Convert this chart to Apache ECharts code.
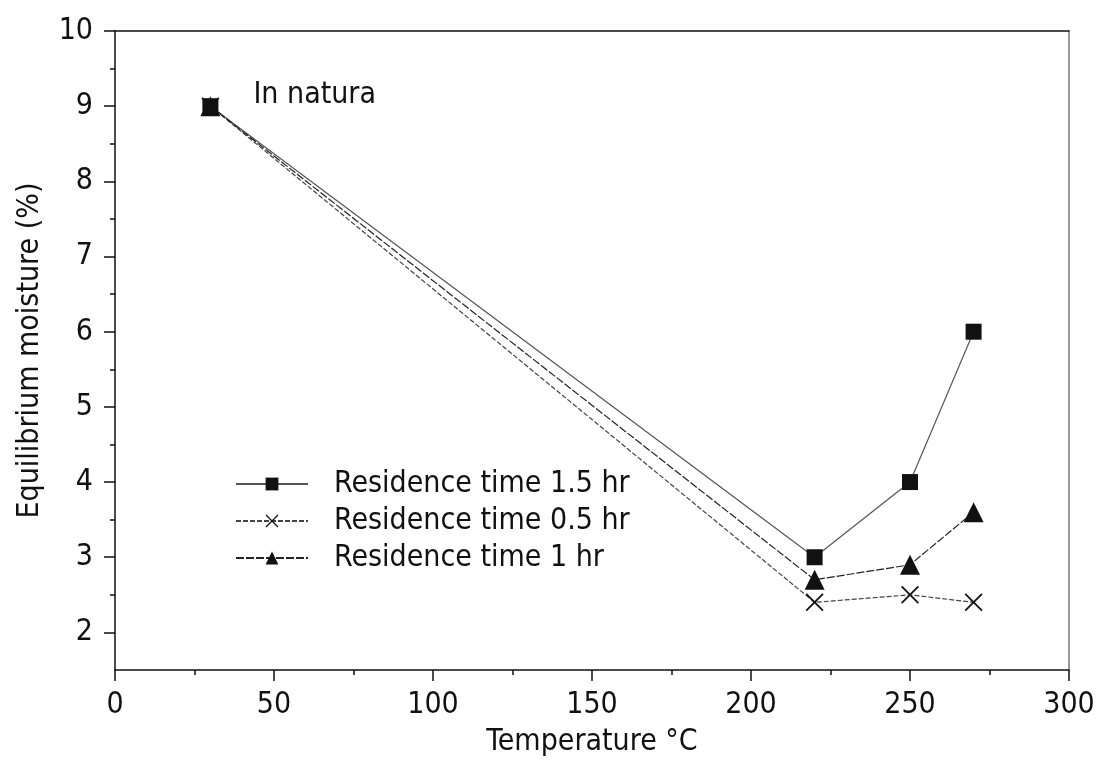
<!DOCTYPE html>
<html>
<head>
<meta charset="utf-8">
<script src="https://cdn.jsdelivr.net/npm/echarts@6/dist/echarts.min.js"></script>
<style>
  html, body { margin: 0; padding: 0; background: #fff; }
  #chart { width: 1108px; height: 767px; }
</style>
</head>
<body>
<div id="chart"></div>
<script>
// Temperature of the treatment (°C) and equilibrium moisture (%) per residence time
const temperatures = [30, 220, 250, 270];
const moisture15h = [9, 3.0, 4.0, 6.0];
const moisture05h = [9, 2.4, 2.5, 2.4];
const moisture10h = [9, 2.7, 2.9, 3.6];

const seriesNames = ['Residence time 1.5 hr', 'Residence time 0.5 hr', 'Residence time 1 hr'];
const pointLabel = 'In natura';

const xTicks = [0, 50, 100, 150, 200, 250, 300];
const yMajorTicks = [2, 3, 4, 5, 6, 7, 8, 9, 10];
const yMinorTicks = [2.5, 3.5, 4.5, 5.5, 6.5, 7.5, 8.5, 9.5];

const FONT = "'Liberation Sans Narrow', 'DejaVu Sans Condensed', 'Noto Sans', sans-serif";
const INK = '#111';

// Thin "x" marker drawn as two filled diagonal bars
const crossSymbol = 'path://M0,0.7L0.7,0L10,9.3L9.3,10Z M9.3,0L10,0.7L0.7,10L0,9.3Z';

function pairs(values) {
  return temperatures.map((t, i) => [t, values[i]]);
}

const chart = echarts.init(document.getElementById('chart'), null, { renderer: 'canvas' });

const data15 = pairs(moisture15h).map((p, i) => i === 0 ? {
  value: p,
  label: {
    show: true, formatter: pointLabel, position: 'right', distance: 35, offset: [0, -11],
    fontFamily: FONT, fontSize: 30, color: INK
  }
} : p);

chart.setOption({
  animation: false,
  backgroundColor: '#fff',
  grid: { left: 115, right: 39, top: 31, bottom: 97, containLabel: false },
  legend: {
    orient: 'vertical',
    left: 235,
    top: 469,
    padding: 0,
    itemWidth: 72,
    itemHeight: 16,
    itemGap: 7,
    textStyle: { fontFamily: FONT, fontSize: 30, color: INK, lineHeight: 30, padding: [0, 0, 0, 21] },
    data: seriesNames
  },
  xAxis: [{
    type: 'value', min: 0, max: 300, interval: 50, position: 'bottom',
    name: 'Temperature °C', nameLocation: 'middle', nameGap: 57,
    nameTextStyle: { fontFamily: FONT, fontSize: 30, color: INK },
    axisLine: { show: true, lineStyle: { color: INK, width: 1.5 } },
    axisTick: { show: true, inside: false, length: 11, lineStyle: { color: INK, width: 1.5 } },
    minorTick: { show: true, splitNumber: 2, length: 5, lineStyle: { color: INK, width: 1.5 } },
    axisLabel: { margin: 20, fontFamily: FONT, fontSize: 30, color: INK, customValues: xTicks },
    splitLine: { show: false }
  }, {
    type: 'value', min: 0, max: 300, position: 'top',
    axisLine: { show: true, lineStyle: { color: INK, width: 1.5 } },
    axisTick: { show: false }, axisLabel: { show: false }, splitLine: { show: false }
  }],
  yAxis: [{
    type: 'value', min: 1.5, max: 10, interval: 0.5, position: 'left',
    name: 'Equilibrium moisture (%)', nameLocation: 'middle', nameGap: 70, nameRotate: 90,
    nameTextStyle: { fontFamily: FONT, fontSize: 30, color: INK },
    axisLine: { show: true, lineStyle: { color: INK, width: 1.5 } },
    axisTick: { show: true, inside: false, length: 11, customValues: yMajorTicks, lineStyle: { color: INK, width: 1.5 } },
    axisLabel: { margin: 22, fontFamily: FONT, fontSize: 30, color: INK, customValues: yMajorTicks },
    splitLine: { show: false }
  }, {
    type: 'value', min: 1.5, max: 10, interval: 0.5, position: 'left', offset: 0,
    axisLine: { show: false },
    axisTick: { show: true, inside: false, length: 5, customValues: yMinorTicks, lineStyle: { color: INK, width: 1.5 } },
    axisLabel: { show: false }, splitLine: { show: false }
  }, {
    type: 'value', min: 1.5, max: 10, position: 'right', offset: 0,
    axisLine: { show: true, lineStyle: { color: '#777', width: 1.5 } },
    axisTick: { show: false }, axisLabel: { show: false }, splitLine: { show: false }
  }],
  series: [{
    name: seriesNames[0], type: 'line', data: data15,
    symbol: 'rect', symbolSize: 16,
    itemStyle: { color: INK },
    lineStyle: { color: '#555', width: 1.2, type: 'solid' },
    z: 3
  }, {
    name: seriesNames[1], type: 'line', data: pairs(moisture05h),
    symbol: crossSymbol, symbolSize: 18,
    itemStyle: { color: INK },
    lineStyle: { color: '#444', width: 1.2, type: [5, 2] },
    z: 2
  }, {
    name: seriesNames[2], type: 'line', data: pairs(moisture10h),
    symbol: 'triangle', symbolSize: 20,
    itemStyle: { color: INK },
    lineStyle: { color: '#222', width: 1.2, type: [8, 2] },
    z: 4
  }]
});
</script>
</body>
</html>
